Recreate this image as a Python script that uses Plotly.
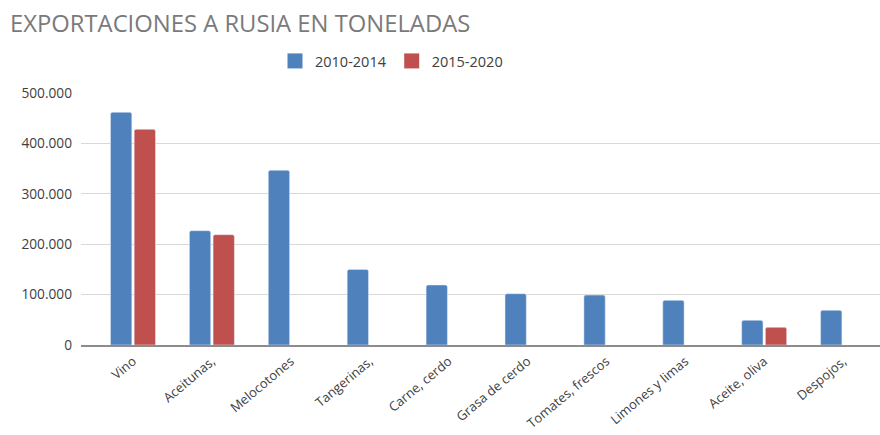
import plotly.graph_objects as go

categorias = ["Vino", "Aceitunas,", "Melocotones", "Tangerinas,", "Carne, cerdo",
              "Grasa de cerdo", "Tomates, frescos", "Limones y limas", "Aceite, oliva", "Despojos,"]
periodo_2010_2014 = [461700, 226800, 346600, 150000, 119000, 101800, 99000, 88600, 49000, 68800]
periodo_2015_2020 = [428000, 218900, None, None, None, None, None, None, 35000, None]

azul = "#4f81bd"
rojo = "#c0504d"
fuente = "Open Sans"

fig = go.Figure()
fig.add_trace(go.Bar(x=categorias, y=periodo_2010_2014, name="2010-2014",
                     marker_color=azul, showlegend=False))
fig.add_trace(go.Bar(x=categorias, y=periodo_2015_2020, name="2015-2020",
                     marker_color=rojo, showlegend=False))
# legend entries with larger square swatches
for nombre, color in [("2010-2014", azul), ("2015-2020", rojo)]:
    fig.add_trace(go.Scatter(x=[None], y=[None], mode="markers", name=nombre,
                             marker=dict(symbol="square", size=15, color=color)))

fig.update_layout(
    width=880, height=435,
    margin=dict(l=81, r=0, t=93, b=90),
    paper_bgcolor="white", plot_bgcolor="white",
    font=dict(family=fuente, size=14, color="#404040"),
    separators=",.",
    barmode="group", bargap=0.4, bargroupgap=0.1, barcornerradius=2,
    title=dict(text="EXPORTACIONES A RUSIA EN TONELADAS", x=10 / 880, xanchor="left",
               xref="container", y=1 - 24 / 435, yanchor="middle", yref="container",
               font=dict(family=fuente, size=23.8, color="#7a7a7a")),
    legend=dict(orientation="h", xref="container", yref="container",
                x=275 / 880, xanchor="left", y=1 - 61 / 435, yanchor="middle",
                font=dict(size=14.5, color="#404040")),
    showlegend=True,
)
fig.update_yaxes(range=[0, 500000], dtick=100000, tickformat=",d", gridcolor="#d9d9d9",
                 gridwidth=1, zeroline=False, showline=False, ticks="", ticklabelstandoff=8,
                 tickfont=dict(size=13.7), automargin=False)
fig.update_xaxes(range=[-0.659, 9.468], tickangle=-40, showline=True, linecolor="#8c8c8c",
                 linewidth=1.5, ticks="", showgrid=False, tickfont=dict(size=13),
                 ticklabelstandoff=2, automargin=False)

fig.write_html("out.html", config={"displayModeBar": False},
               post_script="document.body.style.margin='0';")
